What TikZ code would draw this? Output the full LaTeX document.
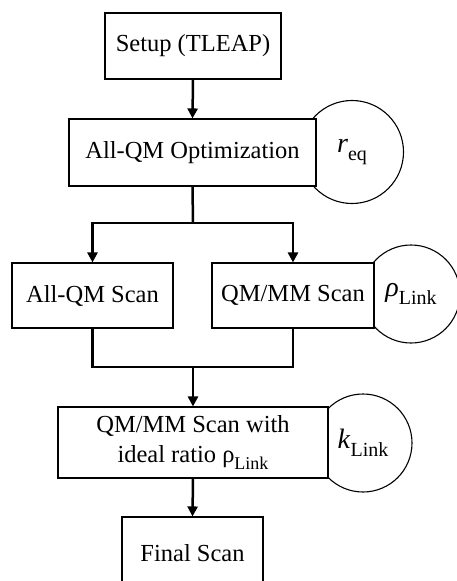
\documentclass[tikz,border=0pt]{standalone}
\usepackage{fontspec}
\setmainfont{Liberation Serif}
\usetikzlibrary{arrows.meta,shapes.geometric}
\newcommand\lowsub[1]{\raisebox{-0.28em}{\fontsize{18}{18}\selectfont #1}}
\newcommand\bubblesub[1]{\raisebox{-0.28em}{\fontsize{20}{20}\selectfont #1}}
\tikzset{
  stepbox/.style={draw, line width=1.1pt, fill=white, inner sep=0pt,
    align=center, font=\fontsize{24.5}{30}\selectfont},
  parambubble/.style={draw, circle, line width=1.1pt, inner sep=0pt,
    font=\fontsize{28}{32}\selectfont},
  conn/.style={line width=2.5pt},
  arr/.style={line width=2.5pt, -{Triangle[width=10pt,length=10pt]}}
}
\begin{document}
\begin{tikzpicture}[x=1pt,y=-1pt]
  \useasboundingbox (0,0) rectangle (457,581);
  \clip (0,0) rectangle (457,581);

  % parameter bubbles, drawn first so the boxes overlap them
  \node[parambubble, minimum size=103pt] (req)   at (352,152) {\textit{r}\bubblesub{eq}};
  \node[parambubble, minimum size=98pt]  (rho)   at (411,294) {\textit{ρ}\bubblesub{Link}};
  \node[parambubble, minimum size=98pt]  (klink) at (363,443) {\textit{k}\bubblesub{Link}};

  % workflow steps
  \node[stepbox, minimum width=176pt, minimum height=66pt] (setup)   at (193,46)      {Setup (TLEAP)};
  \node[stepbox, minimum width=247pt, minimum height=67pt] (opt)     at (192.5,152.5) {All-QM Optimization};
  \node[stepbox, minimum width=161pt, minimum height=65pt] (allscan) at (92.5,295.5)  {All-QM Scan};
  \node[stepbox, minimum width=162pt, minimum height=65pt] (qmscan)  at (293,295.5)   {QM/MM Scan};
  \node[stepbox, minimum width=270pt, minimum height=71pt] (ratio)   at (193,442.5)
    {QM/MM Scan with\\ideal ratio ρ\lowsub{Link}};
  \node[stepbox, minimum width=141pt, minimum height=72pt] (final)   at (192.5,553)   {Final Scan};

  % branch and merge points
  \coordinate (split) at (193,223);
  \coordinate (merge) at (193,367);

  % connectors
  \draw[arr] (setup.south) -- (opt.north);
  \draw[conn] (opt.south) -- (split);
  \draw[arr] (split) -| (allscan.north);
  \draw[arr] (split) -| (qmscan.north);
  \draw[conn] (allscan.south) |- (merge) -| (qmscan.south);
  \draw[arr] (merge) -- (ratio.north);
  \draw[arr] (ratio.south) -- (final.north);
\end{tikzpicture}
\end{document}
